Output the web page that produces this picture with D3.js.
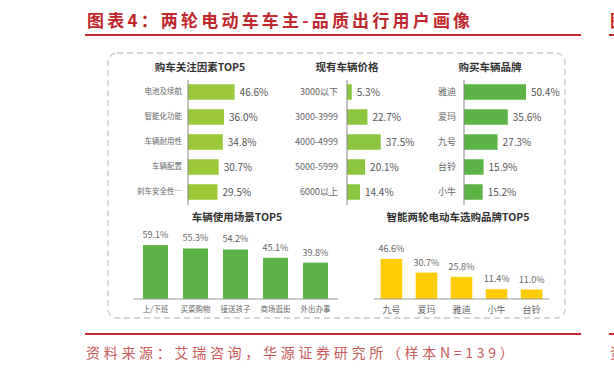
<!DOCTYPE html>
<html>
<head>
<meta charset="utf-8">
<script src="https://cdn.jsdelivr.net/npm/d3@7"></script>
<style>
  body { margin: 0; background: #fff; }
  svg { display: block; font-family: "Noto Sans CJK SC", "Noto Sans", sans-serif; }
</style>
</head>
<body>
<svg id="chart" width="614" height="372"></svg>
<script>
// data
const factorCats = ["电池及续航", "智能化功能", "车辆耐用性", "车辆配置", "刹车安全性…"];
const factorValues = [46.6, 36.0, 34.8, 30.7, 29.5];

const priceCats = ["3000以下", "3000-3999", "4000-4999", "5000-5999", "6000以上"];
const priceValues = [5.3, 22.7, 37.5, 20.1, 14.4];

const brandCats = ["雅迪", "爱玛", "九号", "台铃", "小牛"];
const brandValues = [50.4, 35.6, 27.3, 15.9, 15.2];

const sceneCats = ["上/下班", "买菜购物", "接送孩子", "商场逛街", "外出办事"];
const sceneValues = [59.1, 55.3, 54.2, 45.1, 39.8];

const smartCats = ["九号", "爱玛", "雅迪", "小牛", "台铃"];
const smartValues = [46.6, 30.7, 25.8, 11.4, 11.0];

const svg = d3.select("#chart");
const red = "#c0282d";

// page title + rules
svg.append("text")
    .attr("x", 87).attr("y", 27)
    .attr("fill", red)
    .attr("font-size", 17)
    .attr("font-weight", "bold")
    .attr("letter-spacing", 3.2)
    .text("图表4：两轮电动车车主-品质出行用户画像");

svg.append("line").attr("x1", 85).attr("x2", 581).attr("y1", 35).attr("y2", 35)
    .attr("stroke", red).attr("stroke-width", 2);
svg.append("line").attr("x1", 85).attr("x2", 581).attr("y1", 334).attr("y2", 334)
    .attr("stroke", red).attr("stroke-width", 2);

// bits of the next column, cut off at the right edge
svg.append("line").attr("x1", 609).attr("x2", 700).attr("y1", 35).attr("y2", 35)
    .attr("stroke", red).attr("stroke-width", 2);
svg.append("line").attr("x1", 609).attr("x2", 700).attr("y1", 334).attr("y2", 334)
    .attr("stroke", red).attr("stroke-width", 2);
svg.append("text").attr("x", 610).attr("y", 27).attr("fill", red)
    .attr("font-size", 17).attr("font-weight", "bold").text("图");
svg.append("text").attr("x", 610).attr("y", 358).attr("fill", "#c85a5a")
    .attr("font-size", 14).text("资");

svg.append("text")
    .attr("x", 86).attr("y", 358)
    .attr("fill", "#c85a5a")
    .attr("font-size", 14)
    .attr("letter-spacing", 3.7)
    .text("资料来源：艾瑞咨询，华源证券研究所（样本N=139）");

// dashed frame
svg.append("rect")
    .attr("x", 108).attr("y", 53).attr("width", 457).attr("height", 265)
    .attr("rx", 9)
    .attr("fill", "none")
    .attr("stroke", "#c8c8c8")
    .attr("stroke-width", 1.3)
    .attr("stroke-dasharray", "6,4");

function panelTitle(x, y, txt) {
  svg.append("text")
      .attr("x", x).attr("y", y)
      .attr("text-anchor", "middle")
      .attr("fill", "#333")
      .attr("font-size", 10.5)
      .attr("font-weight", "bold")
      .text(txt);
}

// horizontal bar panel
function hbars(cats, vals, axisX, pxPerPct, color, catSize, pad) {
  const y = d3.scaleBand().domain(cats).range([79.5, 204.5]).paddingInner(0.38).paddingOuter(0.19);
  const x = d3.scaleLinear().domain([0, 50]).range([axisX, axisX + 50 * pxPerPct]);
  const g = svg.append("g");
  g.selectAll("rect").data(vals).enter().append("rect")
      .attr("x", x(0))
      .attr("y", (d, i) => y(cats[i]))
      .attr("width", d => x(d) - x(0))
      .attr("height", y.bandwidth())
      .attr("fill", color);
  g.selectAll("text.v").data(vals).enter().append("text")
      .attr("class", "v")
      .attr("x", d => x(d) + 5)
      .attr("y", (d, i) => y(cats[i]) + y.bandwidth() / 2)
      .attr("dy", "0.35em")
      .attr("font-size", 10)
      .attr("fill", "#555")
      .text(d => d.toFixed(1) + "%");
  const ax = svg.append("g")
      .attr("transform", `translate(${axisX},0)`)
      .call(d3.axisLeft(y).tickSize(0).tickPadding(pad));
  ax.select(".domain").attr("stroke", "#888").attr("d", "M0,80V205");
  ax.selectAll("text").attr("font-size", catSize).attr("fill", "#666")
      .attr("font-family", "\"Noto Sans CJK SC\", sans-serif");
}

// vertical bar panel
function vbars(cats, vals, range, pin, pout, ymax, hpx, color, catSize) {
  const x = d3.scaleBand().domain(cats).range(range).paddingInner(pin).paddingOuter(pout);
  const y = d3.scaleLinear().domain([0, ymax]).range([299, 299 - hpx]);
  const g = svg.append("g");
  g.selectAll("rect").data(vals).enter().append("rect")
      .attr("x", (d, i) => x(cats[i]))
      .attr("y", d => y(d))
      .attr("width", x.bandwidth())
      .attr("height", d => y(0) - y(d))
      .attr("fill", color);
  g.selectAll("text.v").data(vals).enter().append("text")
      .attr("class", "v")
      .attr("x", (d, i) => x(cats[i]) + x.bandwidth() / 2)
      .attr("y", d => y(d) - 7)
      .attr("text-anchor", "middle")
      .attr("font-size", 9)
      .attr("fill", "#666")
      .text(d => d.toFixed(1) + "%");
  const ax = svg.append("g")
      .attr("transform", "translate(0,299)")
      .call(d3.axisBottom(x).tickSize(0).tickPadding(8));
  ax.select(".domain").attr("stroke", "#999").attr("d", `M${range[0]},0H${range[1]}`);
  ax.selectAll("text").attr("font-size", catSize).attr("fill", "#666")
      .attr("font-family", "\"Noto Sans CJK SC\", sans-serif");
}

panelTitle(200, 71, "购车关注因素TOP5");
hbars(factorCats, factorValues, 188, 1.0, "#9bc93a", 7.5, 6);

panelTitle(347, 71, "现有车辆价格");
hbars(priceCats, priceValues, 347, 0.9, "#8cc63f", 9, 9);

panelTitle(490, 71, "购买车辆品牌");
hbars(brandCats, brandValues, 464, 1.23, "#5db446", 9, 8);

panelTitle(237, 221, "车辆使用场景TOP5");
vbars(sceneCats, sceneValues, [133, 338], 0.375, 0.25, 60, 54.8, "#5db446", 7.5);

panelTitle(458, 221, "智能两轮电动车选购品牌TOP5");
vbars(smartCats, smartValues, [374, 549], 0.385, 0.19, 50, 43, "#ffcc00", 9);
</script>
</body>
</html>
